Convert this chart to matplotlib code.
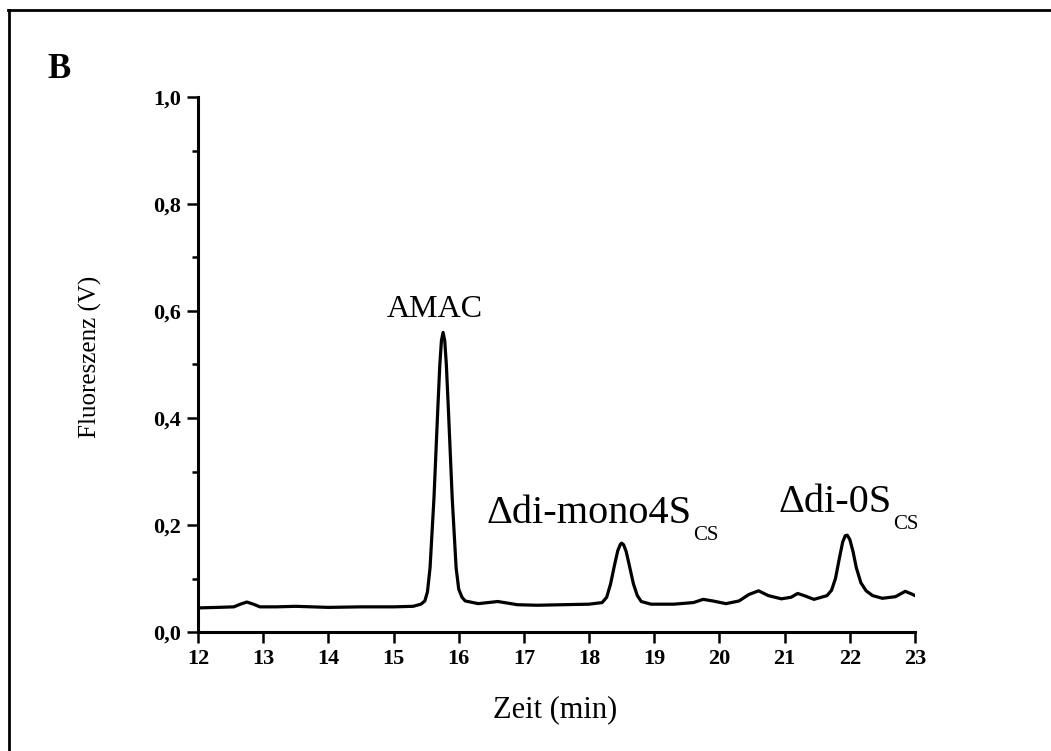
import numpy as np
import matplotlib.pyplot as plt
from matplotlib.lines import Line2D
from matplotlib.ticker import MultipleLocator

# chromatogram (time in min, signal in V)
zeit = [12.0, 12.3, 12.55, 12.65, 12.75, 12.85, 12.95, 13.2, 13.5, 14.0,
        14.5, 15.0, 15.3, 15.42, 15.48, 15.52, 15.56, 15.62, 15.68, 15.71,
        15.735, 15.76, 15.785, 15.81, 15.84, 15.9, 15.96, 16.0, 16.05, 16.1,
        16.3, 16.6, 16.9, 17.2, 17.6, 18.0, 18.2, 18.27, 18.33, 18.39,
        18.44, 18.48, 18.5, 18.53, 18.57, 18.62, 18.68, 18.74, 18.8, 18.95,
        19.3, 19.6, 19.75, 19.9, 20.1, 20.3, 20.45, 20.6, 20.75, 20.95,
        21.1, 21.2, 21.3, 21.45, 21.65, 21.72, 21.78, 21.84, 21.89, 21.93,
        21.96, 22.0, 22.05, 22.1, 22.17, 22.25, 22.35, 22.5, 22.7, 22.85,
        22.95, 23.0]
signal = [0.045, 0.046, 0.047, 0.052, 0.056, 0.052, 0.047, 0.047, 0.048, 0.046,
          0.047, 0.047, 0.048, 0.052, 0.058, 0.075, 0.12, 0.25, 0.42, 0.50,
          0.545, 0.56, 0.545, 0.50, 0.42, 0.25, 0.12, 0.08, 0.065, 0.058,
          0.053, 0.057, 0.051, 0.05, 0.051, 0.052, 0.055, 0.065, 0.09, 0.125,
          0.152, 0.164, 0.166, 0.163, 0.15, 0.123, 0.09, 0.068, 0.057, 0.052,
          0.052, 0.055, 0.061, 0.058, 0.053, 0.058, 0.07, 0.077, 0.068, 0.062,
          0.065, 0.072, 0.068, 0.061, 0.068, 0.078, 0.10, 0.138, 0.168, 0.18,
          0.181, 0.173, 0.15, 0.12, 0.092, 0.077, 0.068, 0.063, 0.066, 0.076,
          0.071, 0.068]

x_ticks = [12, 13, 14, 15, 16, 17, 18, 19, 20, 21, 22, 23]
y_ticks = [0.0, 0.2, 0.4, 0.6, 0.8, 1.0]
y_ticklabels = ["0,0", "0,2", "0,4", "0,6", "0,8", "1,0"]

serif = "Liberation Serif"

fig = plt.figure(figsize=(10.51, 7.51), dpi=100)
ax = fig.add_axes([198 / 1051, 1 - 632 / 751, 717 / 1051, 535 / 751])

ax.plot(zeit, signal, color="black", lw=2.3, solid_joinstyle="round")

ax.set_xlim(12, 23)
ax.set_ylim(0, 1.0)
for side in ["top", "right"]:
    ax.spines[side].set_visible(False)
for side in ["left", "bottom"]:
    ax.spines[side].set_linewidth(2.2)

ax.set_xticks(x_ticks)
ax.set_xticklabels([str(t) for t in x_ticks])
ax.set_yticks(y_ticks)
ax.set_yticklabels(y_ticklabels)
ax.yaxis.set_minor_locator(MultipleLocator(0.1))
ax.tick_params(which="major", direction="out", length=8, width=1.8, pad=4)
ax.tick_params(which="minor", direction="out", length=4.5, width=1.8)
for lab in ax.get_xticklabels() + ax.get_yticklabels():
    lab.set_fontfamily(serif)
    lab.set_fontweight("bold")
    lab.set_fontsize(16)

ax.set_xlabel("Zeit (min)", fontfamily=serif, fontsize=22, va="top")
ax.xaxis.set_label_coords(0.498, -0.118)
ax.set_ylabel("Fluoreszenz (V)", fontfamily=serif, fontsize=18, va="bottom")
ax.yaxis.set_label_coords(-0.134, 0.514)

# peak labels
ax.text(15.63, 0.589, "AMAC", fontfamily=serif, fontsize=23, ha="center", va="baseline")
t1 = ax.text(16.43, 0.204, "\u0394di-mono4S", fontfamily=serif, fontsize=29, va="baseline")
ax.annotate("CS", xy=(1, 0), xycoords=t1, xytext=(1, -6), textcoords="offset points",
            fontfamily=serif, fontsize=15, va="baseline")
t2 = ax.text(20.91, 0.224, "\u0394di-0S", fontfamily=serif, fontsize=29, va="baseline")
ax.annotate("CS", xy=(1, 0), xycoords=t2, xytext=(1, -6), textcoords="offset points",
            fontfamily=serif, fontsize=15, va="baseline")

# panel letter and outer frame
fig.text(47 / 1051, 1 - 78 / 751, "B", fontfamily=serif, fontweight="bold",
         fontsize=25, va="baseline")
fig.add_artist(Line2D([8.7 / 1051, 8.7 / 1051], [0, 1 - 9.7 / 751], color="black",
                      lw=2, transform=fig.transFigure))
fig.add_artist(Line2D([7.7 / 1051, 1], [1 - 9.7 / 751, 1 - 9.7 / 751], color="black",
                      lw=2, transform=fig.transFigure))

fig.savefig("out.png", dpi=100)
